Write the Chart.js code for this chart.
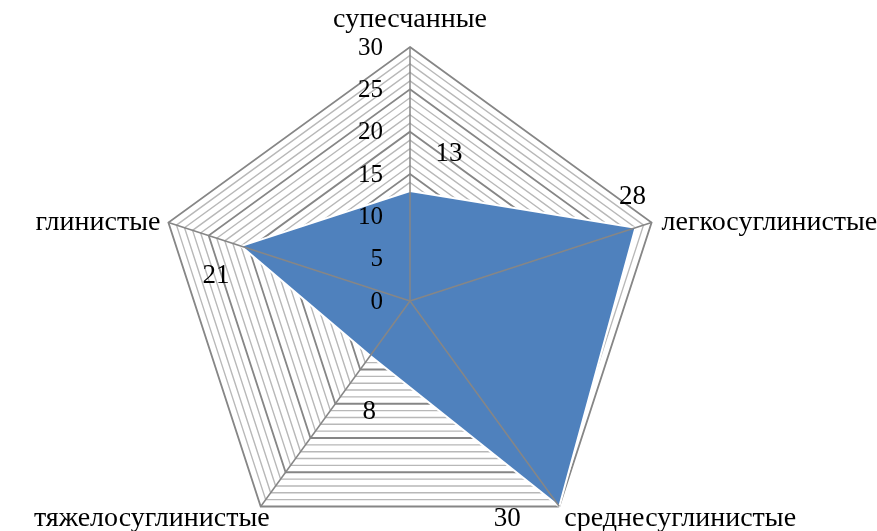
<!DOCTYPE html>
<html>
<head>
<meta charset="utf-8">
<script src="https://cdn.jsdelivr.net/npm/chart.js@4/dist/chart.umd.min.js"></script>
<style>
  html, body { margin: 0; padding: 0; background: #fff; }
  #wrap { width: 877px; height: 531px; position: relative; }
</style>
</head>
<body>
<div id="wrap"><canvas id="radar"></canvas></div>
<script>
/* global Chart */

// data
const categories = ["супесчанные", "легкосуглинистые", "среднесуглинистые", "тяжелосуглинистые", "глинистые"];
const values = [13, 28, 30, 8, 21];
const tickValues = [0, 5, 10, 15, 20, 25, 30];

// label placement (px offsets from the point on the scale)
const catOffsets = [
  { dx: 0, dy: -27, align: "center" },
  { dx: 10, dy: 0, align: "left" },
  { dx: 5, dy: 12, align: "left" },
  { dx: 9, dy: 12, align: "right" },
  { dx: -8, dy: 0, align: "right" }
];
const valueOffsets = [
  { dx: 39, dy: -37 },
  { dx: -3, dy: -31 },
  { dx: -52, dy: 12 },
  { dx: -1, dy: 56 },
  { dx: -25, dy: 30 }
];

const SERIF = "'Liberation Serif', 'Times New Roman', serif";
const CAT_FONT = "28px " + SERIF;
const VAL_FONT = "27px " + SERIF;
const TICK_FONT = "25px " + SERIF;
const GRID_MAJOR = "#868686";
const GRID_MINOR = "#b8b8b8";

// angle lines + all text drawn on top of the filled area
const overlay = {
  id: "overlay",
  afterDatasetsDraw(chart) {
    const scale = chart.scales.r;
    const ctx = chart.ctx;
    ctx.save();

    ctx.strokeStyle = GRID_MAJOR;
    ctx.lineWidth = 1.5;
    categories.forEach((_, i) => {
      const p = scale.getPointPositionForValue(i, scale.max);
      ctx.beginPath();
      ctx.moveTo(scale.xCenter, scale.yCenter);
      ctx.lineTo(p.x, p.y);
      ctx.stroke();
    });

    ctx.fillStyle = "#000";
    ctx.textBaseline = "middle";

    // axis tick labels
    ctx.font = TICK_FONT;
    ctx.textAlign = "right";
    tickValues.forEach(v => {
      const p = scale.getPointPositionForValue(0, v);
      ctx.fillText(String(v), p.x - 27, p.y + 1);
    });

    // category labels
    ctx.font = CAT_FONT;
    categories.forEach((c, i) => {
      const p = scale.getPointPositionForValue(i, scale.max);
      const o = catOffsets[i];
      ctx.textAlign = o.align;
      ctx.fillText(c, p.x + o.dx, p.y + o.dy);
    });

    // data labels
    ctx.font = VAL_FONT;
    ctx.textAlign = "center";
    values.forEach((v, i) => {
      const p = scale.getPointPositionForValue(i, v);
      const o = valueOffsets[i];
      ctx.fillText(String(v), p.x + o.dx, p.y + o.dy);
    });

    ctx.restore();
  }
};

new Chart(document.getElementById("radar"), {
  type: "radar",
  data: {
    labels: categories,
    datasets: [{
      data: values,
      backgroundColor: "#4f81bd",
      borderColor: "#ffffff",
      borderWidth: 2,
      pointRadius: 0,
      fill: true
    }]
  },
  options: {
    responsive: true,
    maintainAspectRatio: false,
    animation: false,
    plugins: { legend: { display: false }, tooltip: { enabled: false } },
    scales: {
      r: {
        min: 0,
        max: 30,
        ticks: { stepSize: 1, display: false },
        pointLabels: { display: false },
        angleLines: { display: false },
        grid: {
          color: c => (c.tick && c.tick.value % 5 === 0 ? GRID_MAJOR : GRID_MINOR),
          lineWidth: c => (c.tick && c.tick.value % 5 === 0 ? 1.8 : 1.4)
        },
        afterFit(scale) {
          scale.xCenter = 410;
          scale.yCenter = 301;
          scale.drawingArea = 254;
        }
      }
    }
  },
  plugins: [overlay]
});
</script>
</body>
</html>
